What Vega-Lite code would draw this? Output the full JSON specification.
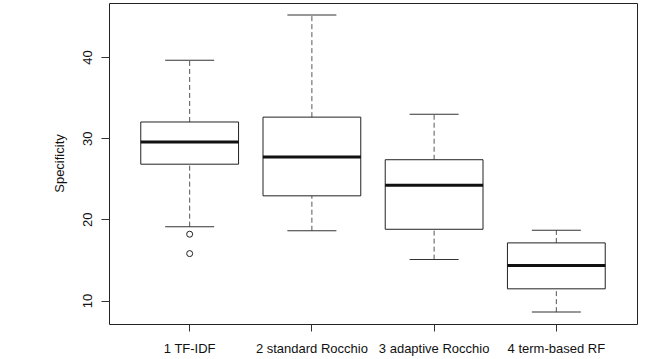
{
  "$schema": "https://vega.github.io/schema/vega-lite/v6.json",
  "width": 528,
  "height": 321,
  "autosize": "none",
  "padding": {"left": 109, "top": 3, "right": 8, "bottom": 35},
  "background": "white",
  "config": {
    "view": {"stroke": "#222", "strokeWidth": 1},
    "font": "Liberation Sans",
    "axis": {"labelFont": "Liberation Sans", "titleFont": "Liberation Sans", "labelColor": "#111", "titleColor": "#111", "tickColor": "#333", "grid": false, "domain": false}
  },
  "datasets": {
    "stats": [
      {"group": "1 TF-IDF", "lower": 19.1, "q1": 26.8, "median": 29.55, "q3": 32.0, "upper": 39.6},
      {"group": "2 standard Rocchio", "lower": 18.6, "q1": 22.9, "median": 27.7, "q3": 32.6, "upper": 45.2},
      {"group": "3 adaptive Rocchio", "lower": 15.04, "q1": 18.78, "median": 24.2, "q3": 27.35, "upper": 32.95},
      {"group": "4 term-based RF", "lower": 8.57, "q1": 11.44, "median": 14.3, "q3": 17.1, "upper": 18.66}
    ],
    "outliers": [
      {"group": "1 TF-IDF", "value": 18.17},
      {"group": "1 TF-IDF", "value": 15.78}
    ]
  },
  "encoding": {
    "x": {
      "field": "group",
      "type": "nominal",
      "sort": null,
      "scale": {"domain": ["1 TF-IDF", "2 standard Rocchio", "3 adaptive Rocchio", "4 term-based RF"], "paddingInner": 0.2, "paddingOuter": 0.26},
      "axis": {"title": null, "labelAngle": 0, "tickSize": 7, "labelPadding": 21, "labelBaseline": "alphabetic", "labelFontSize": 13}
    }
  },
  "layer": [
    {
      "data": {"name": "stats"},
      "mark": {"type": "rule", "color": "#555", "strokeDash": [5, 3], "strokeWidth": 1},
      "encoding": {
        "y": {"field": "q3", "type": "quantitative", "scale": {"domain": [7.105, 46.665], "nice": false, "zero": false},
          "axis": {"values": [10, 20, 30, 40], "title": "Specificity", "tickSize": 8, "labelAngle": 270, "labelAlign": "center", "labelBaseline": "alphabetic", "labelPadding": 10, "labelFontSize": 13, "titleFontSize": 13, "titleFontWeight": "normal", "titleAngle": 270, "titleAlign": "center", "titleBaseline": "alphabetic", "titleX": -46, "titleY": 160}},
        "y2": {"field": "upper"}
      }
    },
    {
      "data": {"name": "stats"},
      "mark": {"type": "rule", "color": "#555", "strokeDash": [5, 3], "strokeWidth": 1},
      "encoding": {
        "y": {"field": "lower", "type": "quantitative"},
        "y2": {"field": "q1"}
      }
    },
    {
      "data": {"name": "stats"},
      "mark": {"type": "bar", "fill": "white", "stroke": "#222", "strokeWidth": 1},
      "encoding": {
        "y": {"field": "q1", "type": "quantitative"},
        "y2": {"field": "q3"}
      }
    },
    {
      "data": {"name": "stats"},
      "mark": {"type": "tick", "orient": "horizontal", "color": "#111", "opacity": 1, "size": 98, "thickness": 3},
      "encoding": {
        "y": {"field": "median", "type": "quantitative"}
      }
    },
    {
      "data": {"name": "stats"},
      "mark": {"type": "tick", "orient": "horizontal", "color": "#333", "opacity": 1, "size": 49, "thickness": 1},
      "encoding": {
        "y": {"field": "upper", "type": "quantitative"}
      }
    },
    {
      "data": {"name": "stats"},
      "mark": {"type": "tick", "orient": "horizontal", "color": "#333", "opacity": 1, "size": 49, "thickness": 1},
      "encoding": {
        "y": {"field": "lower", "type": "quantitative"}
      }
    },
    {
      "data": {"name": "outliers"},
      "mark": {"type": "point", "shape": "circle", "filled": false, "stroke": "#222", "opacity": 1, "strokeWidth": 1, "size": 36},
      "encoding": {
        "y": {"field": "value", "type": "quantitative"}
      }
    }
  ]
}
